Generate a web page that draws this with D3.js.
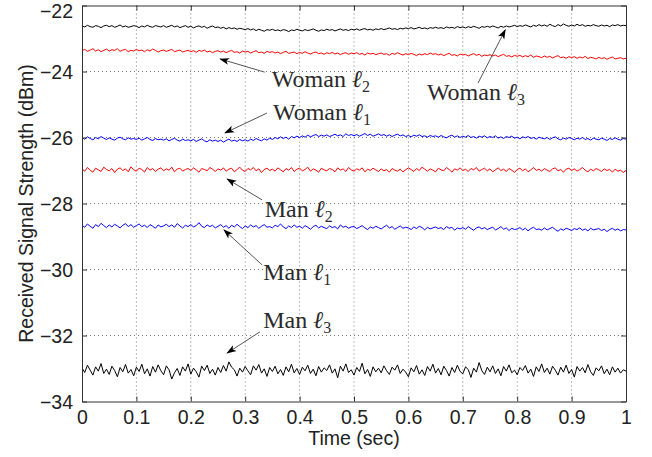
<!DOCTYPE html>
<html>
<head>
<meta charset="utf-8">
<script src="https://cdn.jsdelivr.net/npm/d3@7"></script>
<style>
  html, body { margin: 0; padding: 0; background: #fff; }
  svg { display: block; }
</style>
</head>
<body>
<svg id="chart" width="652" height="457"></svg>
<script>
// ---------------- DATA ----------------
const xTicks = [0, 0.1, 0.2, 0.3, 0.4, 0.5, 0.6, 0.7, 0.8, 0.9, 1];
const xTickLabels = ["0", "0.1", "0.2", "0.3", "0.4", "0.5", "0.6", "0.7", "0.8", "0.9", "1"];
const yTicks = [-34, -32, -30, -28, -26, -24, -22];
const yTickLabels = ["\u221234", "\u221232", "\u221230", "\u221228", "\u221226", "\u221224", "\u221222"];
const timeRange = [0, 1];   // seconds; samples are evenly spaced over this range

const womanL3 = [
-22.62,-22.65,-22.60,-22.64,-22.66,-22.61,-22.63,-22.67,-22.62,-22.60,
-22.64,-22.61,-22.66,-22.63,-22.59,-22.65,-22.62,-22.66,-22.64,-22.61,
-22.63,-22.67,-22.62,-22.65,-22.60,-22.64,-22.66,-22.61,-22.63,-22.65,
-22.61,-22.66,-22.63,-22.60,-22.65,-22.62,-22.67,-22.64,-22.61,-22.66,
-22.63,-22.68,-22.64,-22.62,-22.66,-22.63,-22.69,-22.65,-22.62,-22.67,
-22.65,-22.69,-22.66,-22.71,-22.67,-22.70,-22.68,-22.72,-22.69,-22.71,
-22.73,-22.70,-22.74,-22.71,-22.76,-22.72,-22.75,-22.78,-22.73,-22.75,
-22.72,-22.76,-22.74,-22.77,-22.73,-22.75,-22.79,-22.74,-22.76,-22.72,
-22.75,-22.77,-22.73,-22.76,-22.74,-22.71,-22.75,-22.78,-22.74,-22.76,
-22.72,-22.75,-22.73,-22.77,-22.74,-22.71,-22.75,-22.73,-22.76,-22.72,
-22.74,-22.71,-22.75,-22.72,-22.70,-22.74,-22.72,-22.75,-22.71,-22.73,
-22.70,-22.73,-22.71,-22.68,-22.72,-22.70,-22.73,-22.69,-22.71,-22.68,
-22.70,-22.67,-22.71,-22.69,-22.66,-22.70,-22.68,-22.71,-22.67,-22.69,
-22.66,-22.69,-22.67,-22.70,-22.65,-22.68,-22.66,-22.69,-22.64,-22.67,
-22.65,-22.68,-22.64,-22.67,-22.63,-22.66,-22.69,-22.64,-22.66,-22.63,
-22.66,-22.62,-22.65,-22.68,-22.63,-22.66,-22.62,-22.65,-22.63,-22.60,
-22.64,-22.61,-22.63,-22.59,-22.62,-22.65,-22.60,-22.63,-22.58,-22.62,
-22.59,-22.63,-22.57,-22.61,-22.64,-22.58,-22.62,-22.56,-22.60,-22.63,
-22.59,-22.62,-22.57,-22.61,-22.58,-22.63,-22.60,-22.62,-22.58,-22.61,
-22.63,-22.59,-22.62,-22.60,-22.64,-22.59,-22.61,-22.58,-22.62,-22.60,
-22.61];

const womanL2 = [
-23.37,-23.33,-23.39,-23.35,-23.31,-23.38,-23.34,-23.40,-23.36,-23.32,
-23.38,-23.34,-23.36,-23.31,-23.39,-23.35,-23.33,-23.40,-23.36,-23.38,
-23.33,-23.37,-23.35,-23.40,-23.34,-23.38,-23.32,-23.36,-23.41,-23.37,
-23.35,-23.39,-23.36,-23.33,-23.40,-23.37,-23.35,-23.41,-23.38,-23.36,
-23.40,-23.37,-23.42,-23.36,-23.39,-23.35,-23.41,-23.38,-23.43,-23.39,
-23.37,-23.41,-23.38,-23.43,-23.39,-23.36,-23.42,-23.40,-23.44,-23.38,
-23.41,-23.39,-23.44,-23.40,-23.37,-23.43,-23.41,-23.45,-23.39,-23.42,
-23.40,-23.44,-23.41,-23.46,-23.42,-23.39,-23.45,-23.43,-23.41,-23.46,
-23.42,-23.45,-23.40,-23.44,-23.47,-23.43,-23.41,-23.46,-23.44,-23.48,
-23.43,-23.46,-23.42,-23.47,-23.44,-23.49,-23.45,-23.43,-23.48,-23.44,
-23.46,-23.43,-23.48,-23.45,-23.50,-23.44,-23.47,-23.45,-23.49,-23.46,
-23.44,-23.48,-23.46,-23.51,-23.45,-23.48,-23.43,-23.47,-23.50,-23.46,
-23.49,-23.45,-23.48,-23.52,-23.47,-23.50,-23.46,-23.49,-23.44,-23.48,
-23.46,-23.50,-23.47,-23.52,-23.48,-23.45,-23.51,-23.49,-23.53,-23.47,
-23.50,-23.48,-23.53,-23.49,-23.46,-23.51,-23.48,-23.54,-23.50,-23.52,
-23.49,-23.53,-23.50,-23.55,-23.51,-23.48,-23.54,-23.52,-23.56,-23.51,
-23.54,-23.51,-23.56,-23.52,-23.55,-23.50,-23.57,-23.53,-23.55,-23.58,
-23.53,-23.57,-23.54,-23.59,-23.55,-23.52,-23.58,-23.56,-23.60,-23.55,
-23.58,-23.55,-23.60,-23.56,-23.59,-23.54,-23.61,-23.57,-23.59,-23.62,
-23.57,-23.61,-23.58,-23.63,-23.59,-23.56,-23.62,-23.60,-23.58,-23.62,
-23.60];

const womanL1 = [
-26.01,-26.05,-25.98,-26.03,-26.07,-26.00,-26.04,-25.97,-26.02,-26.06,
-26.01,-26.05,-26.08,-26.02,-25.99,-26.04,-26.07,-26.01,-26.05,-26.03,
-26.06,-26.02,-26.08,-26.04,-26.00,-26.06,-26.09,-26.03,-26.07,-26.05,
-26.08,-26.04,-26.10,-26.06,-26.02,-26.08,-26.11,-26.05,-26.09,-26.07,
-26.10,-26.06,-26.12,-26.08,-26.04,-26.10,-26.13,-26.07,-26.11,-26.08,
-26.12,-26.08,-26.14,-26.09,-26.05,-26.11,-26.08,-26.12,-26.06,-26.10,
-26.07,-26.11,-26.05,-26.09,-26.03,-26.07,-26.10,-26.04,-26.08,-26.02,
-26.06,-26.00,-26.04,-25.98,-26.03,-25.99,-26.05,-25.97,-26.01,-25.96,
-26.00,-25.95,-25.99,-25.93,-25.98,-25.94,-25.91,-25.97,-25.93,-25.96,
-25.92,-25.97,-25.94,-25.90,-25.95,-25.92,-25.97,-25.89,-25.94,-25.91,
-25.95,-25.91,-25.96,-25.92,-25.88,-25.94,-25.90,-25.96,-25.93,-25.89,
-25.94,-25.91,-25.96,-25.92,-25.97,-25.93,-25.90,-25.95,-25.92,-25.97,
-25.94,-25.98,-25.93,-25.96,-25.92,-25.97,-25.95,-25.99,-25.94,-25.97,
-25.95,-25.99,-25.94,-25.98,-26.01,-25.96,-25.93,-25.99,-25.95,-26.00,
-25.96,-25.99,-25.94,-26.00,-25.97,-26.02,-25.96,-25.99,-25.95,-26.01,
-25.97,-26.00,-25.95,-26.02,-25.98,-26.03,-25.97,-26.00,-25.96,-26.02,
-25.99,-26.04,-25.98,-26.01,-25.97,-26.03,-26.00,-26.05,-25.99,-26.02,
-26.04,-26.00,-26.06,-26.01,-25.98,-26.04,-26.07,-26.02,-26.05,-26.00,
-26.03,-26.07,-26.02,-26.05,-26.00,-26.06,-26.03,-26.08,-26.02,-26.05,
-26.07,-26.02,-26.05,-26.09,-26.03,-26.06,-26.01,-26.05,-26.08,-26.03,
-26.05];

const manL2 = [
-26.95,-27.02,-26.91,-26.99,-27.05,-26.93,-26.98,-27.03,-26.90,-26.97,
-27.01,-26.94,-27.06,-26.96,-26.92,-27.00,-26.95,-27.04,-26.89,-26.98,
-27.02,-26.93,-26.97,-27.05,-26.91,-26.99,-26.94,-27.03,-26.96,-26.92,
-27.01,-26.95,-26.99,-26.90,-27.04,-26.96,-26.93,-27.02,-26.97,-26.94,
-27.00,-26.92,-26.98,-27.05,-26.94,-26.97,-27.01,-26.91,-26.96,-27.03,
-26.95,-26.99,-26.92,-27.02,-26.96,-26.93,-27.04,-26.97,-26.90,-26.99,
-27.03,-26.94,-26.98,-26.91,-27.01,-26.95,-27.06,-26.97,-26.93,-27.00,
-26.96,-27.02,-26.92,-26.98,-27.04,-26.94,-26.99,-26.91,-27.03,-26.96,
-26.93,-27.01,-26.97,-26.90,-27.02,-26.95,-26.99,-27.05,-26.93,-26.98,
-27.01,-26.94,-26.97,-27.04,-26.92,-26.99,-26.95,-27.03,-26.91,-26.98,
-27.02,-26.95,-26.99,-26.92,-27.04,-26.96,-27.00,-26.93,-26.98,-27.03,
-26.95,-27.01,-26.97,-27.05,-26.94,-26.99,-27.02,-26.96,-27.04,-26.98,
-26.92,-26.97,-27.03,-26.94,-27.00,-26.90,-26.96,-27.02,-26.95,-26.99,
-27.04,-26.93,-26.98,-27.01,-26.91,-26.97,-27.05,-26.95,-26.99,-26.92,
-27.00,-26.96,-27.03,-26.94,-26.98,-26.91,-27.02,-26.97,-26.93,-27.01,
-26.95,-27.04,-26.98,-26.92,-27.00,-26.96,-27.03,-26.94,-26.99,-27.06,
-26.97,-26.93,-27.01,-26.95,-27.04,-26.98,-26.91,-27.00,-26.96,-27.02,
-26.94,-26.99,-27.03,-26.95,-26.92,-27.01,-26.97,-27.05,-26.96,-26.93,
-27.00,-26.95,-27.02,-26.97,-26.91,-26.99,-27.04,-26.96,-27.01,-26.94,
-26.98,-27.03,-26.95,-27.00,-26.97,-27.05,-26.96,-27.02,-26.99,-27.06,
-27.00];

const manL1 = [
-28.66,-28.72,-28.62,-28.69,-28.75,-28.64,-28.70,-28.60,-28.67,-28.73,
-28.65,-28.71,-28.63,-28.68,-28.74,-28.66,-28.61,-28.70,-28.64,-28.72,
-28.67,-28.62,-28.70,-28.66,-28.73,-28.64,-28.69,-28.75,-28.65,-28.71,
-28.68,-28.63,-28.70,-28.65,-28.72,-28.61,-28.68,-28.74,-28.66,-28.70,
-28.64,-28.71,-28.67,-28.58,-28.69,-28.73,-28.65,-28.70,-28.66,-28.74,
-28.69,-28.64,-28.72,-28.67,-28.75,-28.66,-28.71,-28.63,-28.70,-28.76,
-28.68,-28.73,-28.65,-28.71,-28.67,-28.75,-28.69,-28.64,-28.72,-28.70,
-28.74,-28.66,-28.70,-28.62,-28.71,-28.76,-28.68,-28.73,-28.65,-28.72,
-28.69,-28.75,-28.67,-28.72,-28.78,-28.70,-28.66,-28.74,-28.69,-28.73,
-28.76,-28.68,-28.73,-28.70,-28.77,-28.65,-28.72,-28.69,-28.75,-28.71,
-28.70,-28.76,-28.72,-28.67,-28.74,-28.79,-28.71,-28.75,-28.69,-28.73,
-28.77,-28.71,-28.66,-28.74,-28.70,-28.78,-28.73,-28.68,-28.75,-28.72,
-28.74,-28.79,-28.71,-28.76,-28.69,-28.73,-28.80,-28.72,-28.77,-28.74,
-28.71,-28.76,-28.73,-28.79,-28.70,-28.75,-28.72,-28.81,-28.74,-28.77,
-28.73,-28.78,-28.70,-28.76,-28.81,-28.74,-28.71,-28.77,-28.73,-28.79,
-28.75,-28.72,-28.80,-28.76,-28.70,-28.78,-28.74,-28.82,-28.75,-28.79,
-28.77,-28.73,-28.80,-28.75,-28.83,-28.76,-28.72,-28.79,-28.77,-28.81,
-28.74,-28.80,-28.76,-28.72,-28.79,-28.84,-28.77,-28.81,-28.75,-28.78,
-28.82,-28.76,-28.79,-28.74,-28.81,-28.77,-28.83,-28.75,-28.80,-28.78,
-28.76,-28.82,-28.78,-28.85,-28.79,-28.75,-28.81,-28.77,-28.83,-28.79,
-28.80];

const manL3 = [
-32.98,-33.12,-32.90,-33.05,-33.20,-32.95,-33.08,-32.85,-33.15,-33.02,
-33.18,-32.93,-33.06,-33.25,-32.97,-33.10,-32.88,-33.14,-33.03,-33.22,
-32.96,-33.09,-32.87,-33.16,-33.01,-33.23,-32.94,-33.11,-32.89,-33.07,
-33.19,-32.92,-33.04,-33.32,-33.13,-33.00,-33.21,-32.95,-33.08,-32.86,
-33.17,-32.99,-33.10,-33.26,-32.93,-33.06,-32.90,-33.15,-33.02,-33.20,
-32.97,-33.12,-32.91,-33.08,-32.80,-32.96,-33.04,-33.23,-32.99,-33.11,
-32.94,-33.07,-33.19,-32.92,-33.05,-32.88,-33.14,-33.01,-33.24,-32.97,
-33.09,-32.93,-33.16,-33.03,-33.21,-32.95,-33.10,-32.87,-33.13,-33.00,
-33.18,-32.96,-33.07,-32.90,-33.15,-33.02,-33.22,-32.94,-33.11,-32.98,
-33.06,-32.89,-33.14,-33.01,-33.28,-32.93,-33.08,-32.86,-33.12,-33.04,
-33.20,-32.97,-33.09,-32.84,-33.16,-33.03,-33.24,-32.95,-33.10,-32.99,
-33.13,-32.92,-33.07,-33.18,-32.96,-33.05,-32.89,-33.15,-33.02,-33.11,
-33.25,-32.98,-33.10,-32.91,-33.17,-33.04,-33.21,-32.94,-33.08,-32.87,
-33.14,-33.00,-33.19,-32.93,-33.06,-33.23,-32.97,-33.12,-32.90,-33.09,
-33.16,-32.95,-33.03,-33.27,-32.99,-33.11,-32.82,-33.07,-33.18,-32.96,
-33.10,-32.92,-33.15,-33.01,-33.22,-32.94,-33.08,-32.89,-33.13,-33.05,
-33.19,-32.97,-33.06,-32.91,-33.14,-33.02,-33.24,-32.95,-33.09,-32.86,
-33.12,-32.99,-33.17,-32.93,-33.05,-33.20,-32.96,-33.11,-32.90,-33.15,
-33.03,-33.26,-32.94,-33.08,-32.97,-33.13,-32.88,-33.10,-33.21,-32.98,
-33.07,-32.92,-33.16,-33.02,-33.19,-32.95,-33.11,-32.99,-33.14,-33.04,
-33.08];

const seriesNames = ["Woman l3", "Woman l2", "Woman l1", "Man l2", "Man l1", "Man l3"];
const seriesValues = [womanL3, womanL2, womanL1, manL2, manL1, manL3];
const seriesColors = ["#000000", "#ff0000", "#0000ff", "#ff0000", "#0000ff", "#000000"];

// Annotation labels: text anchor, arrow tail and arrow tip, each as (time, dBm)
const annotations = [
  { who: "Woman", sub: "2", text: [0.349, -24.47], tail: [0.336, -24.02], tip: [0.254, -23.62] },
  { who: "Woman", sub: "1", text: [0.351, -25.47], tail: [0.340, -25.26], tip: [0.263, -25.86] },
  { who: "Woman", sub: "3", text: [0.634, -24.86], tail: [0.728, -24.35], tip: [0.778, -22.74] },
  { who: "Man",   sub: "2", text: [0.336, -28.40], tail: [0.331, -27.89], tip: [0.267, -27.26] },
  { who: "Man",   sub: "1", text: [0.333, -30.32], tail: [0.331, -29.86], tip: [0.261, -28.80] },
  { who: "Man",   sub: "3", text: [0.333, -31.77], tail: [0.327, -31.89], tip: [0.267, -32.53] }
];

// ---------------- LAYOUT ----------------
const svg = d3.select("#chart");
const margin = { left: 82, top: 5.5, right: 652 - 626, bottom: 457 - 401.5 };
const W = 652 - margin.left - margin.right;
const H = 457 - margin.top - margin.bottom;

const x = d3.scaleLinear().domain(timeRange).range([0, W]);
const y = d3.scaleLinear().domain([-34, -22]).range([H, 0]);

const g = svg.append("g").attr("transform", `translate(${margin.left},${margin.top})`);

// Grid (dotted)
const grid = g.append("g").attr("class", "grid");
grid.selectAll("line.vx").data(xTicks.slice(1, -1)).join("line")
  .attr("x1", d => x(d)).attr("x2", d => x(d)).attr("y1", 0).attr("y2", H)
  .attr("stroke", "#777").attr("stroke-width", 1).attr("stroke-dasharray", "1,3");
grid.selectAll("line.hy").data(yTicks.slice(1, -1)).join("line")
  .attr("y1", d => y(d)).attr("y2", d => y(d)).attr("x1", 0).attr("x2", W)
  .attr("stroke", "#777").attr("stroke-width", 1).attr("stroke-dasharray", "1,3");

// Lines
const defs = svg.append("defs");
defs.append("clipPath").attr("id", "plotclip")
  .append("rect").attr("width", W).attr("height", H);

const line = d3.line()
  .x((d, i, arr) => x(timeRange[0] + (timeRange[1] - timeRange[0]) * i / (arr.length - 1)))
  .y(d => y(d));

const linesG = g.append("g").attr("clip-path", "url(#plotclip)");
seriesValues.forEach((vals, k) => {
  linesG.append("path")
    .datum(vals)
    .attr("d", line)
    .attr("fill", "none")
    .attr("stroke", seriesColors[k])
    .attr("stroke-width", 1)
    .attr("stroke-linejoin", "round");
});

// Axes (MATLAB-style box with inward ticks)
const fontAxis = "'Liberation Sans', Arial, Helvetica, sans-serif";
const axB = g.append("g").attr("transform", `translate(0,${H})`)
  .call(d3.axisBottom(x).tickValues(xTicks).tickFormat((d, i) => xTickLabels[i]).tickSizeInner(-5).tickSizeOuter(0).tickPadding(9));
const axT = g.append("g")
  .call(d3.axisTop(x).tickValues(xTicks).tickFormat("").tickSizeInner(-5).tickSizeOuter(0));
const axL = g.append("g")
  .call(d3.axisLeft(y).tickValues(yTicks).tickFormat((d, i) => yTickLabels[i]).tickSizeInner(-5).tickSizeOuter(0).tickPadding(9));
const axR = g.append("g").attr("transform", `translate(${W},0)`)
  .call(d3.axisRight(y).tickValues(yTicks).tickFormat("").tickSizeInner(-5).tickSizeOuter(0));

[axB, axT, axL, axR].forEach(a => {
  a.select(".domain").attr("stroke", "#333").attr("stroke-width", 1);
  a.selectAll(".tick line").attr("stroke", "#333");
  a.selectAll("text").attr("font-family", fontAxis).attr("font-size", 19.5).attr("fill", "#222");
});
axB.selectAll("text").attr("dy", "0.71em");
axL.selectAll("text").attr("dy", d => d === -22 ? "0.6em" : "0.36em");

// Axis titles
svg.append("text")
  .attr("x", margin.left + x(0.5)).attr("y", 445)
  .attr("text-anchor", "middle")
  .attr("font-family", fontAxis).attr("font-size", 19.5).attr("fill", "#222")
  .text("Time (sec)");
svg.append("text")
  .attr("transform", `translate(33,${margin.top + y(-28)}) rotate(-90)`)
  .attr("text-anchor", "middle")
  .attr("font-family", fontAxis).attr("font-size", 19.5).attr("fill", "#222")
  .text("Received Signal Strength (dBm)");

// Annotations
defs.append("marker").attr("id", "arrowhead")
  .attr("viewBox", "0 0 10 10").attr("refX", 9).attr("refY", 5)
  .attr("markerWidth", 10).attr("markerHeight", 10).attr("markerUnits", "userSpaceOnUse")
  .attr("orient", "auto")
  .append("path").attr("d", "M0,1.5 L10,5 L0,8.5 L2.5,5 Z").attr("fill", "#000");

const annG = g.append("g");
annotations.forEach(a => {
  annG.append("line")
    .attr("x1", x(a.tail[0])).attr("y1", y(a.tail[1]))
    .attr("x2", x(a.tip[0])).attr("y2", y(a.tip[1]))
    .attr("stroke", "#555").attr("stroke-width", 1)
    .attr("marker-end", "url(#arrowhead)");
  const t = annG.append("text")
    .attr("x", x(a.text[0])).attr("y", y(a.text[1]))
    .attr("font-family", "'Liberation Serif', 'DejaVu Serif', serif")
    .attr("font-size", 24).attr("fill", "#2a2a2a");
  t.append("tspan").text(a.who + " ");
  t.append("tspan").attr("font-style", "italic").text("\u2113");
  t.append("tspan").attr("font-size", 16).attr("dy", 5).text(a.sub);
});
</script>
</body>
</html>
